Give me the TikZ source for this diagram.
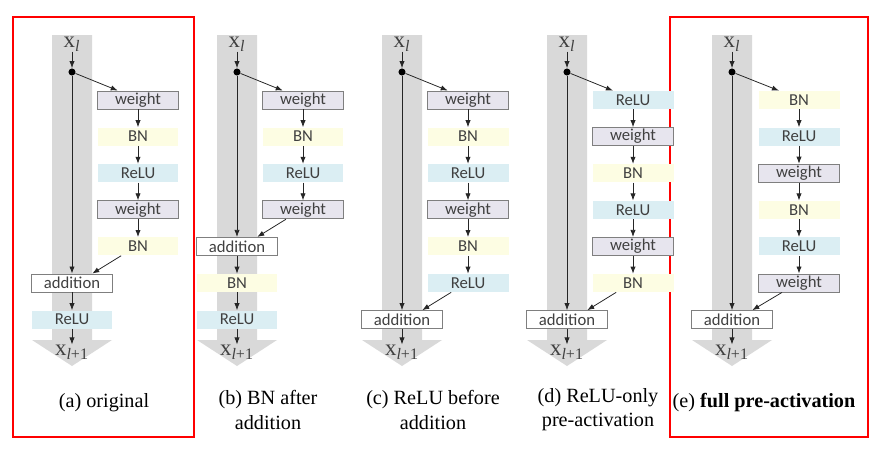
\documentclass[tikz,border=0pt]{standalone}
\usepackage{fontspec}
\setmainfont{Liberation Serif}
\newfontfamily\boitefont{Carlito}
\usetikzlibrary{arrows.meta}
\definecolor{gris}{HTML}{D9D9D9}
\definecolor{lavande}{HTML}{E7E5EE}
\definecolor{jaune}{HTML}{FDFDE3}
\definecolor{bleu}{HTML}{DBEEF3}
\definecolor{bord}{HTML}{7F7F7F}
\definecolor{texte}{HTML}{404040}
% Colonne grise du raccourci (centre en x)
\newcommand{\Colonne}[1]{\fill[gris] (#1-20,35) -- (#1+20,35) -- (#1+20,340) -- (#1+40,340) -- (#1,366) -- (#1-40,340) -- (#1-20,340) -- cycle;}

\begin{document}
\begin{tikzpicture}[x=0.02cm,y=-0.02cm]
% Styles (MODIFIABLES)
\tikzstyle{fleche}=[-{Latex[length=4pt,width=3pt]},black!85,line width=0.45pt]
\tikzstyle{boite}=[minimum width=1.62cm,minimum height=0.36cm,inner sep=0pt,font=\boitefont\fontsize{9.5}{10}\selectfont,text=texte]
\tikzstyle{poids}=[boite,fill=lavande,draw=bord,line width=0.5pt]
\tikzstyle{bn}=[boite,fill=jaune]
\tikzstyle{relu}=[boite,fill=bleu]
\tikzstyle{somme}=[boite,fill=white,draw=bord,line width=0.5pt]
\tikzstyle{entree}=[font=\fontsize{13}{13}\selectfont,text=texte,inner sep=0pt]
\tikzstyle{legende}=[font=\fontsize{11.5}{13.7}\selectfont,align=center,inner sep=0pt]
\tikzstyle{cadre}=[draw=red,line width=0.9pt]
\tikzstyle{point}=[circle,fill=black,inner sep=0pt,minimum size=4pt]
% Dimensions (MODIFIABLES)
\def\Pas{36.6}
\def\NiveauA{100}
\def\NiveauB{100+1*\Pas}
\def\NiveauC{100+2*\Pas}
\def\NiveauD{100+3*\Pas}
\def\NiveauE{100+4*\Pas}
\def\NiveauF{100+5*\Pas}
\def\NiveauG{100+6*\Pas}
\useasboundingbox (0,0) rectangle (885,454);
% Cadres
\draw[cadre] (13,17) rectangle (194,437);
\draw[cadre] (670,17) rectangle (868,437);
% Colonnes
\Colonne{72}
\Colonne{237}
\Colonne{402}
\Colonne{567}
\Colonne{732}
% (a) original
\node[entree] (Axl) at (72,44) {x\textsubscript{\textit{l}}};
\node[point] (Ap) at (72,72) {};
\node[poids] (A1) at (138,{\NiveauA}) {weight};
\node[bn] (A2) at (138,{\NiveauB}) {BN};
\node[relu] (A3) at (138,{\NiveauC}) {ReLU};
\node[poids] (A4) at (138,{\NiveauD}) {weight};
\node[bn] (A5) at (138,{\NiveauE}) {BN};
\node[somme] (Aadd) at (72,{\NiveauF}) {addition};
\node[relu] (Ar) at (72,{\NiveauG}) {ReLU};
\node[entree] (Axo) at (72,352) {x\textsubscript{\textit{l}+1}};
\node[legende] (Aleg) at (104,403) {(a) original};
% (b) BN after addition
\node[entree] (Bxl) at (237,44) {x\textsubscript{\textit{l}}};
\node[point] (Bp) at (237,72) {};
\node[poids] (B1) at (303,{\NiveauA}) {weight};
\node[bn] (B2) at (303,{\NiveauB}) {BN};
\node[relu] (B3) at (303,{\NiveauC}) {ReLU};
\node[poids] (B4) at (303,{\NiveauD}) {weight};
\node[somme] (Badd) at (237,{\NiveauE}) {addition};
\node[bn] (Bbn) at (237,{\NiveauF}) {BN};
\node[relu] (Br) at (237,{\NiveauG}) {ReLU};
\node[entree] (Bxo) at (237,352) {x\textsubscript{\textit{l}+1}};
\node[legende] (Bleg) at (268,410) {(b) BN after\\addition};
% (c) ReLU before addition
\node[entree] (Cxl) at (402,44) {x\textsubscript{\textit{l}}};
\node[point] (Cp) at (402,72) {};
\node[poids] (C1) at (468,{\NiveauA}) {weight};
\node[bn] (C2) at (468,{\NiveauB}) {BN};
\node[relu] (C3) at (468,{\NiveauC}) {ReLU};
\node[poids] (C4) at (468,{\NiveauD}) {weight};
\node[bn] (C5) at (468,{\NiveauE}) {BN};
\node[relu] (C6) at (468,{\NiveauF}) {ReLU};
\node[somme] (Cadd) at (402,{\NiveauG}) {addition};
\node[entree] (Cxo) at (402,352) {x\textsubscript{\textit{l}+1}};
\node[legende] (Cleg) at (433,410) {(c) ReLU before\\addition};
% (d) ReLU-only pre-activation
\node[entree] (Dxl) at (567,44) {x\textsubscript{\textit{l}}};
\node[point] (Dp) at (567,72) {};
\node[relu] (D1) at (633,{\NiveauA}) {ReLU};
\node[poids] (D2) at (633,{\NiveauB}) {weight};
\node[bn] (D3) at (633,{\NiveauC}) {BN};
\node[relu] (D4) at (633,{\NiveauD}) {ReLU};
\node[poids] (D5) at (633,{\NiveauE}) {weight};
\node[bn] (D6) at (633,{\NiveauF}) {BN};
\node[somme] (Dadd) at (567,{\NiveauG}) {addition};
\node[entree] (Dxo) at (567,352) {x\textsubscript{\textit{l}+1}};
\node[legende] (Dleg) at (598,410) {(d) ReLU-only\\pre-activation};
% (e) full pre-activation
\node[entree] (Exl) at (732,44) {x\textsubscript{\textit{l}}};
\node[point] (Ep) at (732,72) {};
\node[bn] (E1) at (799,{\NiveauA}) {BN};
\node[relu] (E2) at (799,{\NiveauB}) {ReLU};
\node[poids] (E3) at (799,{\NiveauC}) {weight};
\node[bn] (E4) at (799,{\NiveauD}) {BN};
\node[relu] (E5) at (799,{\NiveauE}) {ReLU};
\node[poids] (E6) at (799,{\NiveauF}) {weight};
\node[somme] (Eadd) at (732,{\NiveauG}) {addition};
\node[entree] (Exo) at (732,352) {x\textsubscript{\textit{l}+1}};
\node[legende] (Eleg) at (764,403) {(e) \textbf{full pre-activation}};
% Arcs (a)
\draw[fleche] (Axl) -- (Ap);
\draw[fleche] (Ap) -- (A1.155);
\draw[fleche] (A1) -- (A2);
\draw[fleche] (A2) -- (A3);
\draw[fleche] (A3) -- (A4);
\draw[fleche] (A4) -- (A5);
\draw[fleche] (Ap) -- (Aadd);
\draw[fleche] (A5.209) -- (Aadd.25);
\draw[fleche] (Aadd) -- (Ar);
\draw[fleche] (Ar) -- (Axo);
% Arcs (b)
\draw[fleche] (Bxl) -- (Bp);
\draw[fleche] (Bp) -- (B1.155);
\draw[fleche] (B1) -- (B2);
\draw[fleche] (B2) -- (B3);
\draw[fleche] (B3) -- (B4);
\draw[fleche] (Bp) -- (Badd);
\draw[fleche] (B4.209) -- (Badd.25);
\draw[fleche] (Badd) -- (Bbn);
\draw[fleche] (Bbn) -- (Br);
\draw[fleche] (Br) -- (Bxo);
% Arcs (c)
\draw[fleche] (Cxl) -- (Cp);
\draw[fleche] (Cp) -- (C1.155);
\draw[fleche] (C1) -- (C2);
\draw[fleche] (C2) -- (C3);
\draw[fleche] (C3) -- (C4);
\draw[fleche] (C4) -- (C5);
\draw[fleche] (C5) -- (C6);
\draw[fleche] (Cp) -- (Cadd);
\draw[fleche] (C6.209) -- (Cadd.25);
\draw[fleche] (Cadd) -- (Cxo);
% Arcs (d)
\draw[fleche] (Dxl) -- (Dp);
\draw[fleche] (Dp) -- (D1.155);
\draw[fleche] (D1) -- (D2);
\draw[fleche] (D2) -- (D3);
\draw[fleche] (D3) -- (D4);
\draw[fleche] (D4) -- (D5);
\draw[fleche] (D5) -- (D6);
\draw[fleche] (Dp) -- (Dadd);
\draw[fleche] (D6.209) -- (Dadd.25);
\draw[fleche] (Dadd) -- (Dxo);
% Arcs (e)
\draw[fleche] (Exl) -- (Ep);
\draw[fleche] (Ep) -- (E1.155);
\draw[fleche] (E1) -- (E2);
\draw[fleche] (E2) -- (E3);
\draw[fleche] (E3) -- (E4);
\draw[fleche] (E4) -- (E5);
\draw[fleche] (E5) -- (E6);
\draw[fleche] (Ep) -- (Eadd);
\draw[fleche] (E6.209) -- (Eadd.25);
\draw[fleche] (Eadd) -- (Exo);
\end{tikzpicture}
\end{document}
